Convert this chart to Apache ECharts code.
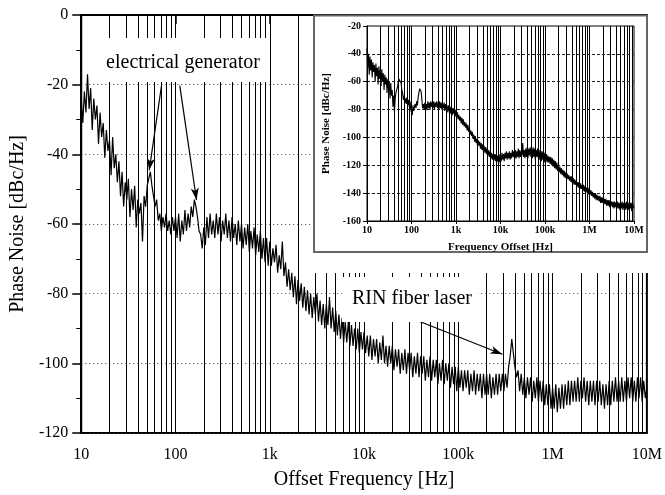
<!DOCTYPE html>
<html><head><meta charset="utf-8">
<script src="https://cdn.jsdelivr.net/npm/echarts@6/dist/echarts.min.js"></script>
<style>html,body{margin:0;padding:0;background:#fff}#c{width:665px;height:495px}</style>
</head><body><div id="c"></div>
<script>
// ---------- data ----------
// offset frequencies (Hz), shared by both traces
const freq = [
10,10.39,10.8,11.22,11.66,12.12,12.59,13.08,13.59,14.13,14.68,15.25,15.85,16.47,17.11,17.78,18.48,19.2,19.95,20.73,21.54,22.39,23.26,24.18,25.12,26.1,27.12,28.18,29.29,30.43,31.62,32.86,34.15,35.48,36.87,38.31,39.81,41.37,42.99,44.67,46.42,48.24,50.12,52.08,54.12,56.23,58.43,60.72,63.1,65.57,68.13,70.79,73.56,76.45,79.43,82.54,85.77,89.13,92.61,96.24,
100,103.9,108,112.2,116.6,121.2,125.9,130.8,135.9,141.3,146.8,152.5,158.5,164.7,171.1,177.8,184.8,192,199.5,207.3,215.4,223.9,232.6,241.8,251.2,261,271.2,281.8,292.9,304.3,316.2,328.6,341.5,354.8,368.7,383.1,398.1,413.7,429.9,446.7,464.2,482.4,501.2,520.8,541.2,562.3,584.3,607.2,631,655.7,681.3,707.9,735.6,764.5,794.3,825.4,857.7,891.3,926.1,962.4,
1000,1039,1080,1122,1166,1212,1259,1308,1359,1413,1468,1525,1585,1647,1711,1778,1848,1920,1995,2073,2154,2239,2326,2418,2512,2610,2712,2818,2929,3043,3162,3286,3415,3548,3687,3831,3981,4137,4299,4467,4642,4824,5012,5208,5412,5623,5843,6072,6310,6557,6813,7079,7356,7645,7943,8254,8577,8913,9261,9624,
10000,10390,10800,11220,11660,12120,12590,13080,13590,14130,14680,15250,15850,16470,17110,17780,18480,19200,19950,20730,21540,22390,23260,24180,25120,26100,27120,28180,29290,30430,31620,32860,34150,35480,36870,38310,39810,41370,42990,44670,46420,48240,50120,52080,54120,56230,58430,60720,63100,65570,68130,70790,73560,76450,79430,82540,85770,89130,92610,96240,
1e5,1.039e5,1.08e5,1.122e5,1.166e5,1.212e5,1.259e5,1.308e5,1.359e5,1.413e5,1.468e5,1.525e5,1.585e5,1.647e5,1.711e5,1.778e5,1.848e5,1.92e5,1.995e5,2.073e5,2.154e5,2.239e5,2.326e5,2.418e5,2.512e5,2.61e5,2.712e5,2.818e5,2.929e5,3.043e5,3.162e5,3.286e5,3.415e5,3.548e5,3.687e5,3.831e5,3.981e5,4.137e5,4.299e5,4.467e5,4.642e5,4.824e5,5.012e5,5.208e5,5.412e5,5.623e5,5.843e5,6.072e5,6.31e5,6.557e5,6.813e5,7.079e5,7.356e5,7.645e5,7.943e5,8.254e5,8.577e5,8.913e5,9.261e5,9.624e5,
1e6,1.039e6,1.08e6,1.122e6,1.166e6,1.212e6,1.259e6,1.308e6,1.359e6,1.413e6,1.468e6,1.525e6,1.585e6,1.647e6,1.711e6,1.778e6,1.848e6,1.92e6,1.995e6,2.073e6,2.154e6,2.239e6,2.326e6,2.418e6,2.512e6,2.61e6,2.712e6,2.818e6,2.929e6,3.043e6,3.162e6,3.286e6,3.415e6,3.548e6,3.687e6,3.831e6,3.981e6,4.137e6,4.299e6,4.467e6,4.642e6,4.824e6,5.012e6,5.208e6,5.412e6,5.623e6,5.843e6,6.072e6,6.31e6,6.557e6,6.813e6,7.079e6,7.356e6,7.645e6,7.943e6,8.254e6,8.577e6,8.913e6,9.261e6,9.624e6,
1e7];

// main plot: phase noise (dBc/Hz)
const mainNoise = [
-24,-31,-22,-28,-17,-27,-21,-33,-24,-30,
-26,-37,-28,-35,-31,-41,-33,-39,-36,-46,
-35,-44,-40,-48,-42,-52,-45,-55,-48,-53,
-47,-58,-50,-56,-49,-61,-53,-57,-54,-65,
-52,-55,-49,-47,-45,-49,-52,-55,-53,-59,
-57,-62,-58,-61,-57,-62,-59,-63,-58,-62,
-58,-64,-57,-65,-59,-63,-56,-62,-57,-61,
-55,-58,-53,-55,-58,-62,-63,-67,-61,-66,
-58,-64,-57,-63,-59,-64,-57,-63,-58,-65,
-59,-63,-57,-64,-59,-65,-58,-64,-60,-66,
-59,-65,-60,-67,-61,-66,-60,-68,-62,-67,
-61,-69,-63,-68,-62,-70,-64,-71,-64,-72,
-65,-72,-67,-71,-66,-74,-69,-73,-65,-75,
-71,-78,-73,-79,-74,-81,-75,-83,-76,-82,
-77,-84,-78,-85,-79,-86,-80,-87,-81,-86,
-80,-88,-82,-89,-83,-90,-83,-89,-81,-90,
-84,-91,-85,-92,-86,-93,-87,-94,-88,-94,
-88,-95,-89,-95,-90,-96,-90,-97,-91,-96,
-91,-97,-92,-98,-92,-99,-93,-98,-93,-100,
-94,-99,-92,-100,-95,-101,-95,-100,-95,-102,
-96,-101,-96,-103,-97,-102,-96,-103,-97,-102,
-97,-104,-98,-103,-97,-104,-98,-103,-98,-105,
-99,-104,-98,-105,-99,-104,-99,-106,-100,-105,
-99,-106,-100,-105,-100,-107,-101,-106,-101,-108,
-101,-107,-102,-108,-102,-107,-102,-109,-103,-108,
-102,-109,-103,-108,-103,-110,-103,-109,-103,-109,
-103,-110,-104,-109,-103,-109,-103,-108,-103,-108,
-103,-107,-101,-98,-93,-97,-101,-104,-102,-108,
-103,-109,-104,-110,-104,-109,-104,-111,-105,-110,
-104,-111,-105,-111,-105,-112,-106,-112,-106,-113,
-107,-113,-106,-114,-107,-113,-106,-113,-106,-112,
-105,-112,-105,-111,-105,-111,-104,-111,-105,-110,
-104,-111,-105,-112,-105,-111,-105,-112,-105,-111,
-105,-112,-106,-113,-106,-112,-105,-112,-105,-111,
-104,-111,-105,-111,-104,-111,-105,-111,-104,-110,
-104,-111,-105,-111,-104,-110,-104,-111,-105,-110,
-107];

// inset plot: phase noise (dBc/Hz)
const insetNoise = [
-36,-50,-40,-55,-42,-52,-44,-57,-46,-53,
-48,-60,-47,-56,-50,-62,-49,-58,-52,-63,
-51,-60,-54,-66,-55,-62,-57,-68,-58,-65,
-60,-72,-61,-70,-66,-78,-70,-82,-72,-68,
-66,-64,-61,-58,-57,-59,-61,-66,-68,-73,
-70,-75,-72,-76,-71,-77,-73,-78,-74,-80,
-80,-84,-77,-81,-78,-76,-79,-74,-77,-71,
-68,-65,-64,-67,-73,-79,-76,-80,-75,-81,
-76,-80,-74,-79,-75,-80,-74,-78,-75,-79,
-74,-80,-75,-78,-74,-79,-75,-80,-74,-79,
-75,-80,-76,-79,-75,-81,-76,-80,-77,-82,
-77,-81,-78,-83,-78,-84,-79,-83,-80,-85,
-80,-86,-82,-87,-84,-88,-85,-90,-86,-91,
-87,-92,-89,-93,-90,-95,-91,-96,-93,-98,
-95,-99,-96,-101,-98,-103,-99,-104,-101,-106,
-102,-106,-103,-108,-104,-109,-105,-110,-106,-111,
-107,-112,-108,-113,-109,-114,-110,-115,-111,-116,
-112,-116,-112,-117,-112,-118,-113,-117,-112,-118,
-113,-117,-111,-116,-112,-117,-111,-115,-110,-116,
-111,-115,-110,-116,-111,-115,-109,-114,-110,-116,
-109,-115,-110,-114,-108,-115,-109,-114,-110,-113,
-104,-114,-109,-115,-108,-114,-107,-115,-108,-113,
-107,-114,-108,-115,-107,-114,-108,-116,-109,-114,
-108,-115,-109,-116,-109,-117,-110,-116,-110,-118,
-111,-117,-112,-118,-113,-118,-114,-119,-114,-120,
-115,-121,-116,-122,-117,-123,-118,-124,-120,-125,
-121,-126,-122,-127,-123,-128,-124,-129,-125,-130,
-126,-130,-127,-131,-128,-132,-128,-133,-129,-134,
-130,-134,-131,-135,-132,-136,-132,-137,-133,-137,
-134,-138,-134,-139,-135,-139,-136,-140,-136,-141,
-137,-141,-138,-142,-139,-143,-140,-144,-140,-145,
-141,-145,-142,-146,-142,-147,-143,-147,-143,-148,
-144,-148,-144,-149,-145,-149,-145,-150,-145,-149,
-146,-150,-146,-151,-146,-150,-147,-151,-146,-151,
-147,-152,-147,-151,-146,-152,-147,-151,-147,-152,
-146,-151,-147,-152,-146,-151,-147,-153,-146,-151,
-149];

const xTickLabels = {10:'10',100:'100',1000:'1k',10000:'10k',100000:'100k',1000000:'1M',10000000:'10M'};
const gridMultipliers = [1,2,3,4,5,6,7,8,9];
const gridDecades = [10,100,1000,10000,100000,1000000];
const insetHLines = [-40,-60,-80,-100,-120,-140];
// annotation arrows: [startFreq, startVal, endFreq, endVal]
const genArrows = [[71,-20.3,52.6,-44.6],[111,-20.3,167,-53.1]];
const rinArrow = [25300,-86,293000,-97.4];

// ---------- build ----------
const FONT = "'Liberation Serif','Times New Roman',serif";
const vLines = [];
gridDecades.forEach(d => gridMultipliers.forEach(m => { const v = m*d; if (v > 10) vLines.push(v); }));
const fmtX = v => xTickLabels[Math.round(v)] !== undefined ? xTickLabels[Math.round(v)] : '';
const arrowData = genArrows.concat([rinArrow]).map(a => [{coord:[a[0],a[1]]},{coord:[a[2],a[3]]}]);

const chart = echarts.init(document.getElementById('c'), null, {renderer:'canvas'});
chart.setOption({
  animation:false,
  backgroundColor:'#fff',
  grid:[
    {left:81, right:15, top:15, bottom:62, show:true, borderColor:'#000', borderWidth:2, z:0},
    {left:367, right:31, top:26, bottom:274, show:true, borderColor:'#000', borderWidth:1, backgroundColor:'#fff', z:7}
  ],
  xAxis:[
    {type:'log', logBase:10, min:10, max:1e7, gridIndex:0,
     axisLine:{lineStyle:{color:'#000', width:2}},
     axisTick:{length:9, lineStyle:{color:'#000', width:1.5}},
     minorTick:{show:true, splitNumber:9, length:5, lineStyle:{color:'#000', width:1}},
     axisLabel:{fontSize:16, fontFamily:FONT, color:'#000', margin:14, formatter:fmtX},
     splitLine:{show:false},
     name:'Offset Frequency [Hz]', nameLocation:'middle', nameGap:37,
     nameTextStyle:{fontSize:20, fontFamily:FONT, color:'#000'}},
    {type:'log', logBase:10, min:10, max:1e7, gridIndex:1, z:8,
     axisLine:{lineStyle:{color:'#000', width:1}},
     axisTick:{length:3, lineStyle:{color:'#000'}},
     axisLabel:{fontSize:10, fontWeight:'bold', fontFamily:FONT, color:'#000', margin:4, formatter:fmtX},
     splitLine:{show:false},
     name:'Frequency Offset [Hz]', nameLocation:'middle', nameGap:21,
     nameTextStyle:{fontSize:11, fontWeight:'bold', fontFamily:FONT, color:'#000'}}
  ],
  yAxis:[
    {type:'value', min:-120, max:0, interval:20, gridIndex:0,
     axisLine:{show:true, lineStyle:{color:'#000', width:2}},
     axisTick:{show:true, length:9, lineStyle:{color:'#000', width:1.5}},
     minorTick:{show:true, splitNumber:2, length:5, lineStyle:{color:'#000', width:1}},
     axisLabel:{fontSize:16, fontFamily:FONT, color:'#000', margin:13},
     splitLine:{show:true, lineStyle:{color:'#444', type:[1,3], width:1}},
     name:'Phase Noise [dBc/Hz]', nameLocation:'middle', nameGap:50,
     nameTextStyle:{fontSize:20, fontFamily:FONT, color:'#000'}},
    {type:'value', min:-160, max:-20, interval:20, gridIndex:1, z:8,
     axisLine:{show:true, lineStyle:{color:'#000', width:1}},
     axisTick:{show:true, length:4, lineStyle:{color:'#000'}},
     axisLabel:{fontSize:10, fontWeight:'bold', fontFamily:FONT, color:'#000', margin:6},
     splitLine:{show:false},
     name:'Phase Noise [dBc/Hz]', nameLocation:'middle', nameGap:35,
     nameTextStyle:{fontSize:11, fontWeight:'bold', fontFamily:FONT, color:'#000'}}
  ],
  series:[
    {type:'line', xAxisIndex:0, yAxisIndex:0, data:[], z:1, silent:true,
     markLine:{z:1, silent:true, symbol:'none', animation:false, label:{show:false},
       lineStyle:{color:'#000', width:1, type:'solid'},
       data: vLines.map(v => ({xAxis:v}))}},
    {type:'line', xAxisIndex:0, yAxisIndex:0, z:3, symbol:'none', silent:true,
     lineStyle:{color:'#000', width:1.2},
     data: freq.map((f,i) => [f, mainNoise[i]])},
    {type:'line', xAxisIndex:0, yAxisIndex:0, data:[], z:4, silent:true,
     markLine:{z:4, silent:true, symbol:['none','arrow'], symbolSize:[6,12], animation:false, label:{show:false},
       lineStyle:{color:'#000', width:1.2, type:'solid'},
       data: arrowData}},
    {type:'line', xAxisIndex:1, yAxisIndex:1, data:[], z:8, silent:true,
     markLine:{z:8, silent:true, symbol:'none', animation:false, label:{show:false},
       data: vLines.map(v => ({xAxis:v, lineStyle:{color:'#000', width:1, type:'solid'}}))
        .concat(insetHLines.map(v => ({yAxis:v, lineStyle:{color:'#222', width:1, type:[3,2]}})))}},
    {type:'line', xAxisIndex:1, yAxisIndex:1, z:9, symbol:'none', silent:true,
     lineStyle:{color:'#000', width:1.1},
     data: freq.map((f,i) => [f, insetNoise[i]])}
  ],
  graphic:[
    {type:'rect', z:5, shape:{x:313, y:16, width:335, height:257}, style:{fill:'#fff'}},
    {type:'rect', z:6, shape:{x:314, y:15.5, width:333, height:236.5}, style:{fill:'none', stroke:'#666', lineWidth:2}},
    {type:'rect', z:5, shape:{x:100, y:38, width:166, height:44}, style:{fill:'#fff'}},
    {type:'text', z:6, x:183, y:63, style:{text:'electrical generator', font:"20px 'Liberation Serif'", fill:'#000', align:'center', verticalAlign:'middle'}},
    {type:'rect', z:5, shape:{x:342, y:277, width:136, height:45}, style:{fill:'#fff'}},
    {type:'text', z:6, x:412, y:299, style:{text:'RIN fiber laser', font:"20px 'Liberation Serif'", fill:'#000', align:'center', verticalAlign:'middle'}}
  ]
});
</script></body></html>
